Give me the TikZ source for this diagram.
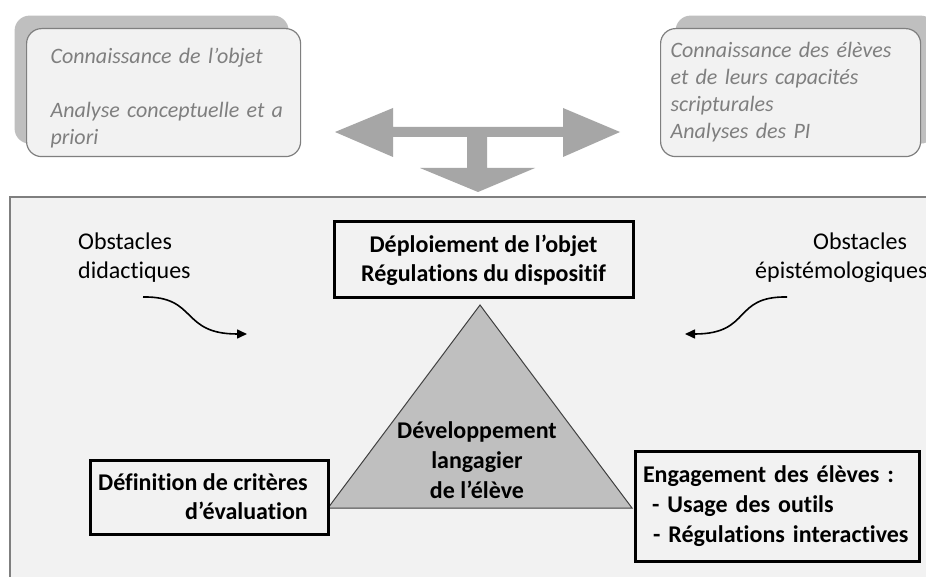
\documentclass[tikz,border=0pt]{standalone}
\usepackage{fontspec}
\setmainfont{Carlito}[Ligatures={NoCommon}]
\usetikzlibrary{arrows.meta,shadows}

\definecolor{panelgrey}{HTML}{F2F2F2}
\definecolor{edgegrey}{HTML}{7F7F7F}
\definecolor{shadowgrey}{HTML}{BFBFBF}
\definecolor{arrowgrey}{HTML}{A6A6A6}
\definecolor{trigrey}{HTML}{BFBFBF}

\begin{document}
\begin{tikzpicture}[x=1pt,y=-1pt,
    topbox/.style={draw=edgegrey,fill=panelgrey,line width=1.2pt,rounded corners=15pt,
      anchor=north west,align=left,minimum height=128pt,text=edgegrey,
      font=\fontsize{22}{27}\selectfont\itshape},
    boldbox/.style={draw=black,line width=3pt,fill=panelgrey,
      font=\fontsize{24}{29}\selectfont\bfseries},
    obstext/.style={anchor=north west,align=left,inner sep=0pt,
      font=\fontsize{24}{29}\selectfont},
    curvy/.style={line width=1.6pt,-{Triangle[length=10pt,width=9pt]}}]
  \useasboundingbox (0,0) rectangle (926,577);
  \fill[white] (0,0) rectangle (926,577);

  % lower panel
  \draw[edgegrey,fill=panelgrey,line width=1.2pt] (10,197) rectangle (960,600);

  % the two knowledge boxes with their shadows
  \node[topbox,text width=226pt,inner xsep=24pt,
    copy shadow={shadow xshift=-12pt,shadow yshift=13pt,fill=shadowgrey,draw=none}]
    (objet) at (26,28)
    {\rule{0pt}{6pt}\\[-6pt]Connaissance de l’objet\\[27pt]\mbox{Analyse conceptuelle et a}\\priori};
  \node[topbox,text width=240pt,inner xsep=10pt,
    copy shadow={shadow xshift=15pt,shadow yshift=13pt,fill=shadowgrey,draw=none}]
    (eleves) at (660,28)
    {Connaissance des élèves\\et de leurs capacités\\scripturales\\Analyses des PI};

  % grey T-shaped arrow
  \fill[arrowgrey] (335,132) -- (393,108) -- (393,127) -- (563,127) -- (563,108)
    -- (620,132) -- (563,157) -- (563,137) -- (487,137) -- (487,168) -- (535,168)
    -- (478,192) -- (420,168) -- (467,168) -- (467,137) -- (393,137) -- (393,157) -- cycle;

  % triangle
  \coordinate (apex) at (480,305);
  \coordinate (baseL) at (328,508);
  \coordinate (baseR) at (632,508);
  \draw[fill=trigrey,draw=black!75,line width=1pt] (apex) -- (baseR) -- (baseL) -- cycle;
  \node[align=center,font=\fontsize{24}{30}\selectfont\bfseries] (dev) at (477,460)
    {Développement\\langagier\\de l’élève};

  % the three poles
  \node[boldbox,minimum width=299pt,minimum height=76pt,align=center] (deploi) at (483.5,260)
    {Déploiement de l’objet\\Régulations du dispositif};
  \node[boldbox,minimum width=238pt,minimum height=74pt,align=right] (criteres) at (209,497)
    {Définition de critères\hspace*{12pt}\\d’évaluation\hspace*{12pt}};
  \node[boldbox,minimum width=284pt,minimum height=110pt,align=left,text width=268pt,
    inner xsep=8pt,font=\fontsize{24}{30}\selectfont\bfseries] (engage) at (777,506)
    {Engagement des élèves :\\\hspace*{9pt}- Usage des outils\\\hspace*{10pt}- Régulations interactives};

  % obstacles
  \node[obstext] (obsdid) at (78,233) {Obstacles\\didactiques};
  \node[obstext] (obsepi) at (755,233) {\hspace*{58pt}Obstacles\\épistémologiques};

  \coordinate (didS) at (143,297);
  \coordinate (didE) at (247,334);
  \coordinate (epiS) at (787,297);
  \coordinate (epiE) at (685,334);
  \draw[curvy] (didS) .. controls (198,296) and (180,334) .. (didE);
  \draw[curvy] (epiS) .. controls (732,296) and (752,334) .. (epiE);
\end{tikzpicture}
\end{document}
